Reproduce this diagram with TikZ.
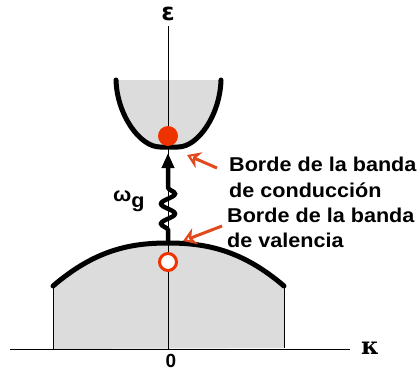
\documentclass[tikz,border=0pt]{standalone}
\usepackage{fontspec}
\setmainfont{Liberation Sans}
\newfontfamily\widesans[FakeStretch=1.08]{Liberation Sans}
\newfontfamily\greeksans{DejaVu Sans}
\newfontfamily\greekserif{DejaVu Serif}
\usetikzlibrary{arrows.meta,decorations.pathmorphing}
\definecolor{bandgray}{HTML}{DCDCDC}
\definecolor{dotred}{HTML}{EE3300}
\definecolor{pointerred}{HTML}{E04A1C}
\begin{document}
\begin{tikzpicture}[x=1pt,y=-1pt,
    bandlabel/.style={font=\widesans\fontsize{20}{24}\selectfont\bfseries, anchor=base west, inner sep=0pt},
    pointer/.style={draw=pointerred, line width=3pt, -{Stealth[open,length=13pt,width=17pt]}},
    bandedge/.style={line width=5pt, line cap=round}]
    \useasboundingbox (0,0) rectangle (419,372);

    % Bands
    \fill[bandgray] (116,80) .. controls (117,115) and (140,147) .. (160,147) -- (178,147)
        .. controls (198,147) and (220,115) .. (221,80) -- cycle;
    \fill[bandgray] (53,286) .. controls (95,250) and (130,243) .. (168,243)
        .. controls (206,243) and (242,250) .. (284,286) -- (284,348) -- (53,349) -- cycle;
    \draw[line width=0.6pt] (53,286) -- (53,349);
    \draw[line width=0.6pt] (284,286) -- (284,348);

    % Axes
    \draw[line width=0.7pt] (10,349) -- (350,349);
    \draw[line width=0.7pt] (168,26) -- (168,349);

    \draw[bandedge] (116,80) .. controls (117,115) and (140,147) .. (160,147) -- (178,147)
        .. controls (198,147) and (220,115) .. (221,80);
    \draw[bandedge] (53,286) .. controls (95,250) and (130,243) .. (168,243)
        .. controls (206,243) and (242,250) .. (284,286);

    % Nodes
    \node[circle, fill=dotred, minimum size=20pt, inner sep=0pt] (electron) at (168,136) {};
    \node[circle, draw=dotred, fill=white, line width=3pt, minimum size=17pt, inner sep=0pt] (hole) at (168,262) {};
    \coordinate (vtop) at (168,243);
    \coordinate (cbot) at (168,153);
    \coordinate (ctail) at (217,168);
    \coordinate (chead) at (187,155);
    \coordinate (vtail) at (222,226);
    \coordinate (vhead) at (183,241);

    \node[font=\greeksans\bfseries\fontsize{24}{24}\selectfont, inner sep=0pt] (energy) at (168,14) {ε};
    \node[font=\greekserif\bfseries\fontsize{24}{24}\selectfont, inner sep=0pt] (momentum) at (370,348) {κ};
    \node[font=\fontsize{19}{19}\selectfont\bfseries, inner sep=0pt] (origin) at (171,361) {0};
    \node[bandlabel] (gap) at (113,201) {ω\raisebox{-6pt}{g}};
    \node[bandlabel] (cond1) at (229,171) {Borde de la banda};
    \node[bandlabel] (cond2) at (229,197) {de conducción};
    \node[bandlabel] (val1) at (227,222) {Borde de la banda};
    \node[bandlabel] (val2) at (227,247) {de valencia};

    % Edges
    \draw[line width=4.5pt, -{Triangle[length=15pt,width=12pt]}, decorate,
        decoration={snake, amplitude=7pt, segment length=20pt, pre length=13pt, post length=27pt}]
        (vtop) -- (cbot);
    \draw[pointer] (ctail) -- (chead);
    \draw[pointer] (vtail) -- (vhead);
\end{tikzpicture}
\end{document}
